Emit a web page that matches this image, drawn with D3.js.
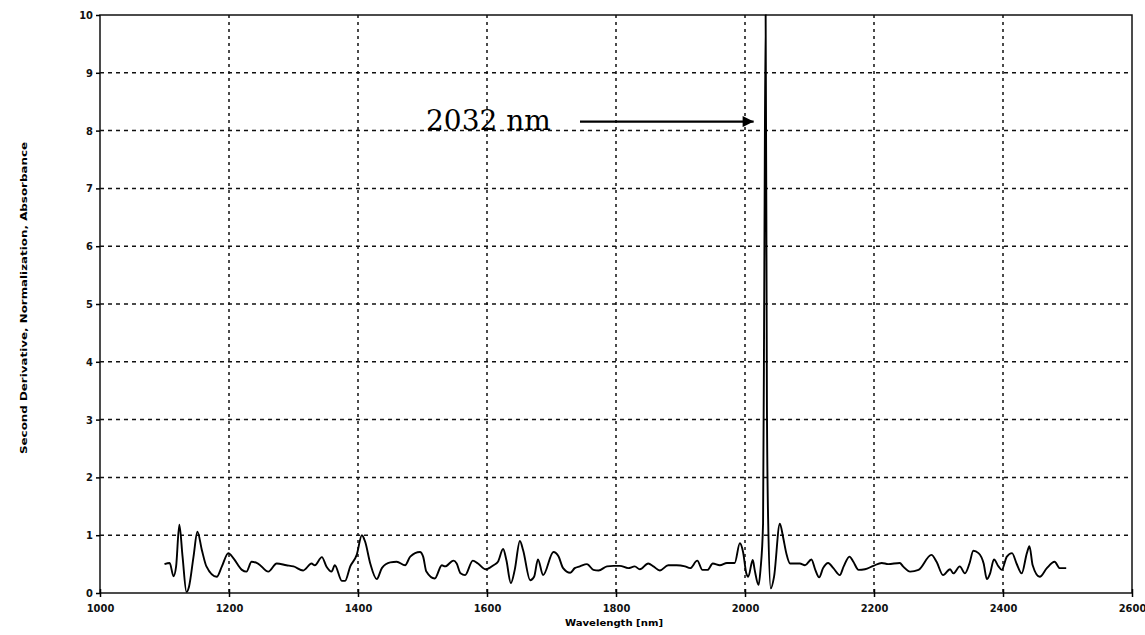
<!DOCTYPE html>
<html>
<head>
<meta charset="utf-8">
<script src="https://cdn.jsdelivr.net/npm/d3@7"></script>
<style>
  body { margin: 0; background: #fff; }
  svg { display: block; }
  .tick text { font-family: "DejaVu Sans Condensed", "DejaVu Sans", sans-serif; font-weight: bold; font-size: 11px; fill: #111; }
</style>
</head>
<body>
<svg id="chart"></svg>
<script>
// wavelength [nm] and second derivative values
const wavelengths = [1100, 1108, 1114, 1118, 1123, 1128, 1134, 1138, 1145, 1151, 1158, 1165, 1181, 1189, 1199, 1207,
  1220, 1227, 1235, 1245, 1261, 1274, 1289, 1300, 1315, 1328, 1333, 1344, 1351, 1359, 1364, 1375, 1380, 1388, 1398,
  1406, 1411, 1419, 1429, 1437, 1450, 1460, 1473, 1481, 1496, 1501, 1506, 1519, 1530, 1535, 1548, 1553, 1559, 1566,
  1578, 1586, 1598, 1610, 1617, 1625, 1630, 1637, 1643, 1651, 1656, 1667, 1673, 1679, 1687, 1703, 1711, 1718, 1729,
  1736, 1744, 1755, 1765, 1773, 1786, 1796, 1806, 1819, 1829, 1837, 1850, 1858, 1868, 1881, 1894, 1907, 1915, 1926,
  1934, 1942, 1950, 1961, 1972, 1984, 1992, 1997, 2002, 2005, 2012, 2015, 2021, 2024, 2028, 2030, 2032, 2034, 2036,
  2040, 2045, 2054, 2059, 2064, 2070, 2085, 2093, 2103, 2109, 2115, 2121, 2129, 2137, 2147, 2153, 2162, 2168, 2176,
  2186, 2199, 2212, 2222, 2240, 2245, 2256, 2269, 2289, 2297, 2307, 2318, 2323, 2333, 2341, 2348, 2354, 2362, 2370,
  2375, 2380, 2386, 2393, 2398, 2406, 2414, 2421, 2429, 2437, 2441, 2446, 2457, 2468, 2480, 2488, 2498];
const absorbance = [0.50, 0.52, 0.29, 0.46, 1.18, 0.63, 0.02, 0.11, 0.63, 1.06, 0.74, 0.46, 0.28, 0.46, 0.69, 0.60,
  0.40, 0.37, 0.54, 0.51, 0.37, 0.51, 0.48, 0.46, 0.39, 0.51, 0.48, 0.62, 0.46, 0.37, 0.48, 0.21, 0.21, 0.46, 0.66,
  1.00, 0.89, 0.51, 0.24, 0.43, 0.53, 0.54, 0.48, 0.63, 0.71, 0.63, 0.37, 0.25, 0.48, 0.46, 0.56, 0.51, 0.34, 0.31,
  0.56, 0.51, 0.41, 0.48, 0.54, 0.76, 0.57, 0.17, 0.40, 0.90, 0.74, 0.22, 0.28, 0.58, 0.31, 0.71, 0.63, 0.43, 0.35,
  0.43, 0.46, 0.50, 0.40, 0.39, 0.46, 0.47, 0.47, 0.43, 0.46, 0.41, 0.51, 0.46, 0.39, 0.48, 0.48, 0.46, 0.43, 0.56,
  0.40, 0.40, 0.51, 0.48, 0.52, 0.52, 0.86, 0.71, 0.34, 0.28, 0.57, 0.40, 0.14, 0.40, 1.20, 5.70, 10.0, 3.20, 1.20,
  0.08, 0.28, 1.20, 0.97, 0.69, 0.51, 0.51, 0.48, 0.58, 0.40, 0.27, 0.43, 0.52, 0.43, 0.31, 0.46, 0.63, 0.54, 0.40,
  0.41, 0.47, 0.52, 0.50, 0.52, 0.46, 0.37, 0.40, 0.66, 0.54, 0.31, 0.41, 0.34, 0.46, 0.34, 0.51, 0.73, 0.69, 0.51,
  0.24, 0.34, 0.58, 0.46, 0.40, 0.63, 0.69, 0.51, 0.34, 0.69, 0.81, 0.48, 0.28, 0.43, 0.54, 0.43, 0.43];
const xTicks = [1000, 1200, 1400, 1600, 1800, 2000, 2200, 2400, 2600];
const yTicks = [0, 1, 2, 3, 4, 5, 6, 7, 8, 9, 10];
const peakLabel = "2032 nm";
const peakWavelength = 2032;

const width = 1145;
const height = 635;
const margin = {top: 15, right: 13, bottom: 42, left: 100};

const svg = d3.select("#chart")
              .attr("width", width)
              .attr("height", height);

const xScale = d3.scaleLinear()
                 .domain([1000, 2600])
                 .range([margin.left, width - margin.right]);

const yScale = d3.scaleLinear()
                 .domain([0, 10])
                 .range([height - margin.bottom, margin.top]);

// grid
svg.append("g")
   .selectAll("line")
   .data(yTicks.slice(1, -1))
   .enter()
   .append("line")
   .attr("x1", margin.left)
   .attr("x2", width - margin.right)
   .attr("y1", d => yScale(d))
   .attr("y2", d => yScale(d))
   .attr("stroke", "#111")
   .attr("stroke-width", 1.5)
   .attr("stroke-dasharray", "4,4");

svg.append("g")
   .selectAll("line")
   .data(xTicks.slice(1, -1))
   .enter()
   .append("line")
   .attr("x1", d => xScale(d))
   .attr("x2", d => xScale(d))
   .attr("y1", margin.top)
   .attr("y2", height - margin.bottom)
   .attr("stroke", "#111")
   .attr("stroke-width", 1.5)
   .attr("stroke-dasharray", "3,4");

// frame
svg.append("rect")
   .attr("x", margin.left)
   .attr("y", margin.top)
   .attr("width", width - margin.left - margin.right)
   .attr("height", height - margin.top - margin.bottom)
   .attr("fill", "none")
   .attr("stroke", "#111")
   .attr("stroke-width", 1.5);

const xAxis = d3.axisBottom(xScale).tickValues(xTicks).tickSize(4).tickPadding(7).tickFormat(d3.format("d"));
const yAxis = d3.axisLeft(yScale).tickValues(yTicks).tickSize(4).tickPadding(3);

const gx = svg.append("g")
              .attr("transform", `translate(0,${height - margin.bottom})`)
              .call(xAxis);
gx.select(".domain").remove();
gx.selectAll(".tick line").attr("y1", -4).attr("stroke-width", 1.5);

const gy = svg.append("g")
              .attr("transform", `translate(${margin.left},0)`)
              .call(yAxis);
gy.select(".domain").remove();
gy.selectAll(".tick line").attr("stroke-width", 1.5);

// spectrum
const line = d3.line()
               .x((d, i) => xScale(wavelengths[i]))
               .y(d => yScale(d))
               .curve(d3.curveMonotoneX);

svg.append("path")
   .datum(absorbance)
   .attr("d", line)
   .attr("fill", "none")
   .attr("stroke", "#000")
   .attr("stroke-width", 1.9)
   .attr("stroke-linejoin", "round");

// axis titles
svg.append("text")
   .attr("x", xScale(1800) - 2)
   .attr("y", 626)
   .attr("text-anchor", "middle")
   .attr("font-family", "DejaVu Sans Condensed, DejaVu Sans, sans-serif")
   .attr("font-weight", "bold")
   .attr("font-size", 9)
   .attr("textLength", 98)
   .attr("lengthAdjust", "spacingAndGlyphs")
   .text("Wavelength [nm]");

svg.append("text")
   .attr("transform", `translate(27,${yScale(5) - 6}) rotate(-90)`)
   .attr("text-anchor", "middle")
   .attr("font-family", "DejaVu Sans Condensed, DejaVu Sans, sans-serif")
   .attr("font-weight", "bold")
   .attr("font-size", 9)
   .attr("textLength", 312)
   .attr("lengthAdjust", "spacingAndGlyphs")
   .text("Second Derivative, Normalization, Absorbance");

// peak annotation
const defs = svg.append("defs");
defs.append("marker")
    .attr("id", "arrow")
    .attr("viewBox", "0 0 10 10")
    .attr("refX", 10)
    .attr("refY", 5)
    .attr("markerWidth", 6)
    .attr("markerHeight", 5)
    .attr("markerUnits", "strokeWidth")
    .attr("orient", "auto")
    .append("path")
    .attr("d", "M0,0 L10,5 L0,10 z")
    .attr("fill", "#000");

svg.append("text")
   .attr("x", 426)
   .attr("y", yScale(8) - 1)
   .attr("font-family", "DejaVu Serif, serif")
   .attr("font-size", 28)
   .attr("fill", "#000")
   .text(peakLabel);

svg.append("line")
   .attr("x1", 580)
   .attr("x2", xScale(peakWavelength) - 12)
   .attr("y1", yScale(8) - 9)
   .attr("y2", yScale(8) - 9)
   .attr("stroke", "#000")
   .attr("stroke-width", 2.2)
   .attr("marker-end", "url(#arrow)");
</script>
</body>
</html>
